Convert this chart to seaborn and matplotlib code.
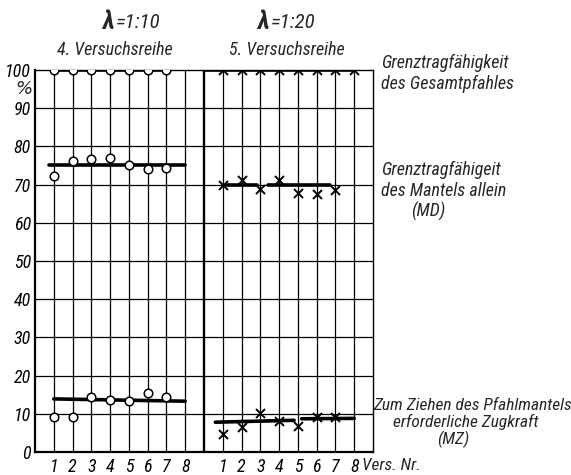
import matplotlib
matplotlib.use("Agg")
import matplotlib.pyplot as plt
import seaborn as sns
import pandas as pd
from matplotlib import font_manager as fm

# ---------------- data ----------------
versuch_nr = [1, 2, 3, 4, 5, 6, 7, 8]
tick_labels = ["1", "2", "3", "4", "5", "6", "7", "8"]
y_ticks = [0, 10, 20, 30, 40, 50, 60, 70, 80, 90, 100]

# 4. Versuchsreihe (lambda = 1:10), circles
r4_nr = [1, 2, 3, 4, 5, 6, 7]
r4_gesamt = [100, 100, 100, 100, 100, 100, 100]
r4_md = [72.3, 76.3, 76.7, 77.0, 75.2, 74.2, 74.3]
r4_mz = [9.2, 9.2, 14.3, 13.6, 13.4, 15.4, 14.3]
r4_md_mean_x = [0.75, 8.0]
r4_md_mean_y = [75.2, 75.2]
r4_mz_mean_x = [1.0, 8.0]
r4_mz_mean_y = [13.9, 13.3]

# 5. Versuchsreihe (lambda = 1:20), crosses
r5_gesamt_nr = [1, 2, 3, 4, 5, 6, 7, 8]
r5_gesamt = [100, 100, 100, 100, 100, 100, 100, 100]
r5_nr = [1, 2, 3, 4, 5, 6, 7]
r5_md = [69.9, 71.2, 68.8, 71.2, 67.8, 67.6, 68.5]
r5_mz = [4.7, 6.6, 10.1, 8.1, 6.9, 9.1, 9.2]
r5_md_mean_x = [[1.2, 2.8], [3.4, 6.7]]
r5_md_mean_y = [[69.8, 69.8], [69.8, 69.8]]
r5_mz_mean_x = [[0.6, 4.8], [5.2, 8.0]]
r5_mz_mean_y = [[7.8, 8.3], [8.7, 8.8]]

OFFSET = 9  # second series starts after the divider

# ---------------- font ----------------
names = {f.name for f in fm.fontManager.ttflist}
fam = "DejaVu Sans"
for cand in ["Liberation Sans Narrow", "DejaVu Sans Condensed", "Roboto Condensed", "Open Sans Condensed"]:
    if cand in names:
        fam = cand
        break

sns.set_theme(style="white")
plt.rcParams["font.family"] = [fam, "DejaVu Sans"]
plt.rcParams["font.style"] = "italic"

W, H = 571, 475
fig = plt.figure(figsize=(W / 100, H / 100), dpi=100)
ax = fig.add_axes([35 / W, (H - 452) / H, 338 / W, 382 / H])

def px(x, y):
    return x / W, 1 - y / H

ax.set_xlim(0, 18)
ax.set_ylim(0, 100)

# grid
for y in y_ticks[1:-1]:
    ax.axhline(y, color="black", lw=0.9, zorder=1)
for x in versuch_nr:
    ax.axvline(x, color="black", lw=0.9, zorder=1)
    ax.axvline(x + OFFSET, color="black", lw=0.9, zorder=1)
ax.axvline(9, color="black", lw=1.7, zorder=1)

for side in ["left", "bottom"]:
    ax.spines[side].set_linewidth(1.6)
for side in ["top", "right"]:
    ax.spines[side].set_linewidth(1.0)
for s in ax.spines.values():
    s.set_color("black")
    s.set_zorder(2)

thick = dict(color="black", lw=2.6, estimator=None, sort=False, legend=False, ax=ax)

# ---- 4. Versuchsreihe ----
sns.lineplot(x=r4_nr, y=r4_gesamt, **thick)
sns.lineplot(x=r4_md_mean_x, y=r4_md_mean_y, **thick)
sns.lineplot(x=r4_mz_mean_x, y=r4_mz_mean_y, **thick)
df4 = pd.DataFrame({"x": r4_nr * 3, "y": r4_gesamt + r4_md + r4_mz})
sns.scatterplot(data=df4, x="x", y="y", marker="o", s=38, facecolor="white",
                edgecolor="black", linewidth=1.1, zorder=5, ax=ax, legend=False)

# ---- 5. Versuchsreihe ----
sns.lineplot(x=[9] + [n + OFFSET for n in r5_gesamt_nr], y=[100] + r5_gesamt, **thick)
for xs, ys in zip(r5_md_mean_x, r5_md_mean_y):
    sns.lineplot(x=[v + OFFSET for v in xs], y=ys, **thick)
for xs, ys in zip(r5_mz_mean_x, r5_mz_mean_y):
    sns.lineplot(x=[v + OFFSET for v in xs], y=ys, **thick)
df5 = pd.DataFrame({"x": [n + OFFSET for n in r5_gesamt_nr] + [n + OFFSET for n in r5_nr] * 2,
                    "y": r5_gesamt + r5_md + r5_mz})
sns.scatterplot(data=df5, x="x", y="y", marker="x", s=42, color="black",
                linewidth=1.4, zorder=5, ax=ax, legend=False)

# ticks
tfs = 13
ax.set_xticks(versuch_nr + [n + OFFSET for n in versuch_nr])
ax.set_xticklabels(tick_labels + tick_labels, fontsize=tfs, style="italic")
ax.set_yticks(y_ticks)
ax.set_yticklabels([str(v) for v in y_ticks], fontsize=tfs, style="italic")
ax.tick_params(length=0, pad=3, colors="black")
ax.tick_params(axis="x", pad=4)
ax.set_xlabel("")
ax.set_ylabel("")
ax.grid(False)

# texts
fs = 13
fig.text(*px(32, 89), "%", ha="right", va="center", fontsize=13,
         family=["DejaVu Sans"], style="oblique")
fig.text(*px(362, 465), "Vers. Nr.", ha="left", va="center", fontsize=12.5)
fig.text(*px(108, 22), "λ", ha="center", va="center", fontsize=18, fontweight="bold")
fig.text(*px(116, 22), "=1:10", ha="left", va="center", fontsize=15)
fig.text(*px(263, 22), "λ", ha="center", va="center", fontsize=18, fontweight="bold")
fig.text(*px(271, 22), "=1:20", ha="left", va="center", fontsize=15)
fig.text(*px(115, 50), "4. Versuchsreihe", ha="center", va="center", fontsize=13)
fig.text(*px(287, 50), "5. Versuchsreihe", ha="center", va="center", fontsize=13)

fig.text(*px(381, 63), "Grenztragfähigkeit", ha="left", va="center", fontsize=fs)
fig.text(*px(381, 84), "des Gesamtpfahles", ha="left", va="center", fontsize=fs)
fig.text(*px(381, 170), "Grenztragfähigeit", ha="left", va="center", fontsize=fs)
fig.text(*px(381, 191), "des Mantels allein", ha="left", va="center", fontsize=fs)
fig.text(*px(428, 211), "(MD)", ha="center", va="center", fontsize=fs)
mfs = 12.5
fig.text(*px(472, 405), "Zum Ziehen des Pfahlmantels", ha="center", va="center", fontsize=mfs)
fig.text(*px(466, 422), "erforderliche Zugkraft", ha="center", va="center", fontsize=mfs)
fig.text(*px(453, 439), "(MZ)", ha="center", va="center", fontsize=mfs)

fig.savefig("out.png", dpi=100, facecolor="white")
